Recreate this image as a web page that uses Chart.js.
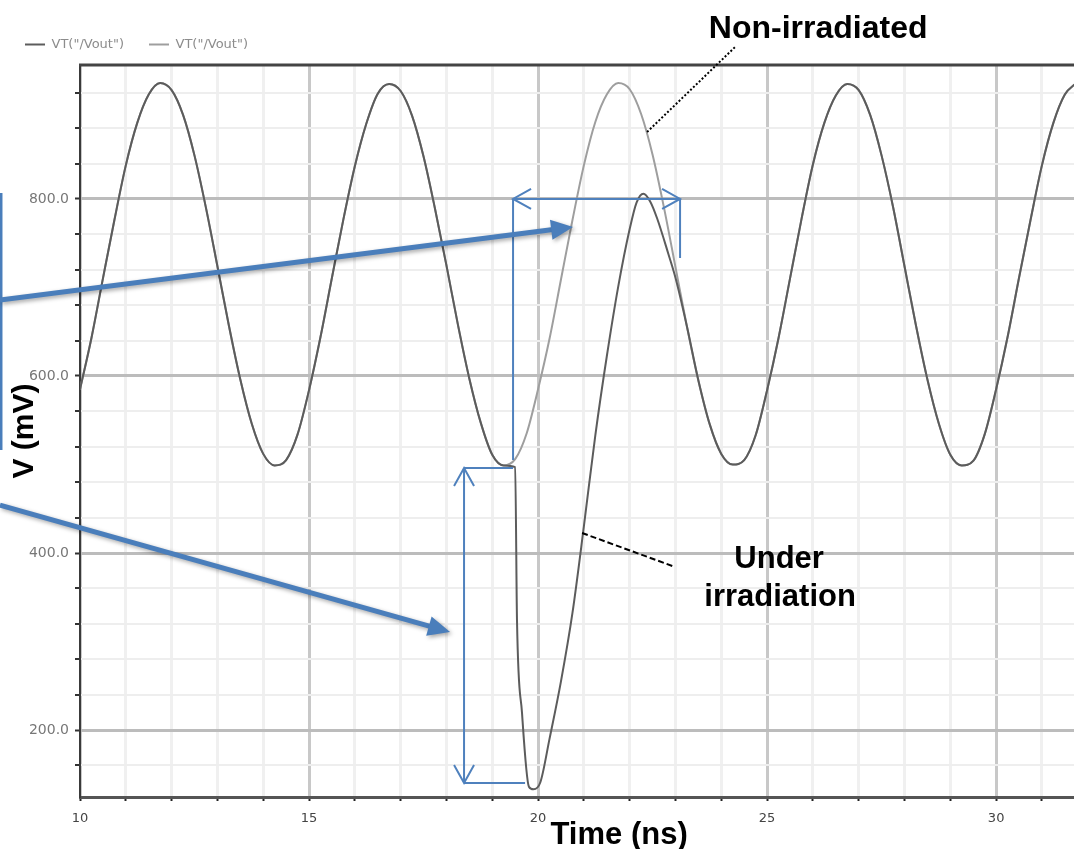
<!DOCTYPE html>
<html>
<head>
<meta charset="utf-8">
<title>VT(/Vout) - SET on ring oscillator</title>
<script src="https://cdn.jsdelivr.net/npm/chart.js@4.4.1/dist/chart.umd.min.js"></script>
<style>
  html, body { margin: 0; padding: 0; background: #fff; }
  #wrap { width: 1074px; height: 849px; }
</style>
</head>
<body>
<div id="wrap"><canvas id="voutChart" width="1074" height="849"></canvas></div>
<script>
// time (ns), one sample every 0.25 ns
const timeNs = [
    10, 10.25, 10.5, 10.75, 11, 11.25, 11.5, 11.75, 12, 12.25, 12.5, 12.75, 13, 13.25, 13.5, 13.75, 14, 14.25, 14.5, 14.75,
    15, 15.25, 15.5, 15.75, 16, 16.25, 16.5, 16.75, 17, 17.25, 17.5, 17.75, 18, 18.25, 18.5, 18.75, 19, 19.25, 19.5, 19.75,
    20, 20.25, 20.5, 20.75, 21, 21.25, 21.5, 21.75, 22, 22.25, 22.5, 22.75, 23, 23.25, 23.5, 23.75, 24, 24.25, 24.5, 24.75,
    25, 25.25, 25.5, 25.75, 26, 26.25, 26.5, 26.75, 27, 27.25, 27.5, 27.75, 28, 28.25, 28.5, 28.75, 29, 29.25, 29.5, 29.75,
    30, 30.25, 30.5, 30.75, 31, 31.25, 31.5, 31.75
];

// non-irradiated output (mV)
const vNonIrradiated = [
    585, 643, 710, 776, 838, 886, 918, 931, 923, 895, 849, 790, 724, 657, 596, 546, 512, 499, 505, 534,
    584, 644, 711, 777, 837, 885, 919, 930, 922, 894, 848, 789, 725, 658, 597, 547, 511, 499, 506, 535,
    585, 642, 709, 776, 838, 887, 918, 931, 924, 896, 850, 790, 723, 656, 595, 545, 512, 500, 505, 533,
    584, 643, 710, 777, 839, 886, 917, 930, 923, 895, 849, 791, 724, 657, 596, 546, 511, 499, 504, 534,
    585, 644, 711, 776, 838, 886, 918, 931
];

// under irradiation: strike at ~19.5 ns, then recovery
const timeIrradiated = [
    10, 10.25, 10.5, 10.75, 11, 11.25, 11.5, 11.75, 12, 12.25, 12.5, 12.75, 13, 13.25, 13.5, 13.75, 14, 14.25, 14.5, 14.75,
    15, 15.25, 15.5, 15.75, 16, 16.25, 16.5, 16.75, 17, 17.25, 17.5, 17.75, 18, 18.25, 18.5, 18.75, 19, 19.25,
    19.5, 19.54, 19.65, 19.8, 19.9, 20.05, 20.25, 20.5, 20.75, 21, 21.25, 21.5, 21.75, 22, 22.15, 22.3, 22.45, 22.6, 22.85, 23,
    23.25, 23.5, 23.75, 24, 24.25, 24.5, 24.75,
    25, 25.25, 25.5, 25.75, 26, 26.25, 26.5, 26.75, 27, 27.25, 27.5, 27.75, 28, 28.25, 28.5, 28.75, 29, 29.25, 29.5, 29.75,
    30, 30.25, 30.5, 30.75, 31, 31.25, 31.5, 31.75
];
const vIrradiated = [
    585, 643, 710, 776, 838, 886, 918, 931, 923, 895, 849, 790, 724, 657, 596, 546, 512, 499, 505, 534,
    584, 644, 711, 777, 837, 885, 919, 930, 922, 894, 848, 789, 725, 658, 597, 547, 511, 499,
    497, 324, 219, 136, 133, 141, 190, 255, 332, 430, 533, 622, 701, 766, 796, 806, 797, 778, 737, 711,
    656, 595, 545, 512, 500, 505, 533,
    584, 643, 710, 777, 839, 886, 917, 930, 923, 895, 849, 791, 724, 657, 596, 546, 511, 499, 504, 534,
    585, 644, 711, 776, 838, 886, 918, 931
];

const seriesLabels = ['VT("/Vout")', 'VT("/Vout")'];
const xTickLabels = [10, 15, 20, 25, 30];
const yTickLabels = [200, 400, 600, 800];

// callouts, in data units (ns, mV)
const bigArrows = [
    [8.253, 685.9, 20.764, 768.4],
    [8.253, 454.2, 18.079, 310.7]
];
const bracketLines = [
    [19.454, 800, 19.454, 505.1],
    [23.1, 800, 23.1, 733.3],
    [18.384, 496.0, 19.454, 496.0],
    [18.384, 140.1, 19.716, 140.1]
];
const doubleArrows = [
    [19.454, 800, 23.1, 800],
    [18.384, 496.0, 18.384, 140.1]
];

const toPoints = (xs, ys) => xs.map((t, i) => ({ x: t, y: ys[i] }));

const legendHeight = {
    id: 'legendHeight',
    beforeInit(chart) {
        const fit = chart.legend.fit;
        chart.legend.fit = function () {
            fit.call(this);
            this.height = 52;
        };
    }
};

function arrowHead(ctx, x0, y0, x1, y1, len, half, filled) {
    const a = Math.atan2(y1 - y0, x1 - x0);
    const bx = x1 - len * Math.cos(a), by = y1 - len * Math.sin(a);
    const px = -Math.sin(a) * half, py = Math.cos(a) * half;
    ctx.beginPath();
    ctx.moveTo(bx + px, by + py);
    ctx.lineTo(x1, y1);
    ctx.lineTo(bx - px, by - py);
    if (filled) {
        ctx.closePath();
        ctx.fill();
    } else {
        ctx.stroke();
    }
}

const callouts = {
    id: 'callouts',
    afterDraw(chart) {
        const { ctx, chartArea, scales: { x, y } } = chart;
        const P = (t, v) => [x.getPixelForValue(t), y.getPixelForValue(v)];
        ctx.save();

        // frame line on top of the plot
        ctx.strokeStyle = '#444';
        ctx.lineWidth = 3;
        ctx.beginPath();
        ctx.moveTo(chartArea.left - 1, chartArea.top);
        ctx.lineTo(chartArea.right, chartArea.top);
        ctx.stroke();

        const blue = '#4a7ebb';

        // edge of the cut-off text box on the left
        let [ax, ay] = P(8.275, 806.8);
        let [bx, by] = P(8.275, 516.4);
        ctx.strokeStyle = blue;
        ctx.lineWidth = 3;
        ctx.beginPath();
        ctx.moveTo(ax, ay);
        ctx.lineTo(bx, by);
        ctx.stroke();

        // thin brackets
        ctx.lineWidth = 2;
        ctx.strokeStyle = '#4f81bd';
        bracketLines.forEach(([t0, v0, t1, v1]) => {
            const [p0x, p0y] = P(t0, v0);
            const [p1x, p1y] = P(t1, v1);
            ctx.beginPath();
            ctx.moveTo(p0x, p0y);
            ctx.lineTo(p1x, p1y);
            ctx.stroke();
        });
        doubleArrows.forEach(([t0, v0, t1, v1]) => {
            const [p0x, p0y] = P(t0, v0);
            const [p1x, p1y] = P(t1, v1);
            ctx.beginPath();
            ctx.moveTo(p0x, p0y);
            ctx.lineTo(p1x, p1y);
            ctx.stroke();
            arrowHead(ctx, p0x, p0y, p1x, p1y, 18, 10, false);
            arrowHead(ctx, p1x, p1y, p0x, p0y, 18, 10, false);
        });

        // big pointer arrows
        ctx.shadowColor = 'rgba(0,0,0,0.35)';
        ctx.shadowBlur = 4;
        ctx.shadowOffsetX = 2;
        ctx.shadowOffsetY = 2;
        ctx.strokeStyle = blue;
        ctx.fillStyle = blue;
        ctx.lineWidth = 5;
        bigArrows.forEach(([t0, v0, t1, v1]) => {
            const [p0x, p0y] = P(t0, v0);
            const [p1x, p1y] = P(t1, v1);
            const a = Math.atan2(p1y - p0y, p1x - p0x);
            ctx.beginPath();
            ctx.moveTo(p0x, p0y);
            ctx.lineTo(p1x - 18 * Math.cos(a), p1y - 18 * Math.sin(a));
            ctx.stroke();
            arrowHead(ctx, p0x, p0y, p1x, p1y, 22, 10, true);
        });
        ctx.shadowColor = 'transparent';

        // leader lines
        ctx.strokeStyle = '#000';
        ctx.lineWidth = 2;
        ctx.setLineDash([2, 2]);
        [ax, ay] = P(22.38, 875.7);
        [bx, by] = P(24.301, 971.7);
        ctx.beginPath();
        ctx.moveTo(ax, ay);
        ctx.lineTo(bx, by);
        ctx.stroke();
        ctx.setLineDash([6, 3]);
        [ax, ay] = P(20.961, 422.6);
        [bx, by] = P(22.991, 384.2);
        ctx.beginPath();
        ctx.moveTo(ax, ay);
        ctx.lineTo(bx, by);
        ctx.stroke();
        ctx.setLineDash([]);

        // labels
        ctx.fillStyle = '#000';
        ctx.textAlign = 'center';
        ctx.textBaseline = 'alphabetic';
        ctx.font = 'bold 32px "Liberation Sans", Arial, sans-serif';
        ctx.fillText('Non-irradiated', ...P(26.114, 981.9));
        ctx.font = 'bold 31px "Liberation Sans", Arial, sans-serif';
        ctx.fillText('Under', ...P(25.262, 383.0));
        ctx.fillText('irradiation', ...P(25.284, 340.1));
        ctx.fillText('Time (ns)', ...P(21.769, 71.2));

        ctx.restore();
    }
};

const ctx = document.getElementById('voutChart').getContext('2d');

new Chart(ctx, {
    type: 'line',
    data: {
        datasets: [
            {
                label: seriesLabels[0],
                data: toPoints(timeIrradiated, vIrradiated),
                borderColor: '#5c5c5c',
                backgroundColor: '#5c5c5c',
                borderWidth: 2,
                pointRadius: 0,
                cubicInterpolationMode: 'monotone',
                fill: false
            },
            {
                label: seriesLabels[1],
                data: toPoints(timeNs, vNonIrradiated),
                borderColor: '#9e9e9e',
                backgroundColor: '#9e9e9e',
                borderWidth: 2,
                pointRadius: 0,
                cubicInterpolationMode: 'monotone',
                fill: false
            }
        ]
    },
    options: {
        responsive: false,
        animation: false,
        layout: { padding: { top: 13, left: 0, right: 0, bottom: 0 } },
        plugins: {
            legend: {
                align: 'start',
                labels: {
                    usePointStyle: true,
                    pointStyle: 'line',
                    pointStyleWidth: 20,
                    padding: 25,
                    color: '#8c8c8c',
                    font: { family: 'DejaVu Sans', size: 13 }
                }
            },
            tooltip: { enabled: false }
        },
        scales: {
            x: {
                type: 'linear',
                min: 10,
                max: 31.7,
                afterFit: scale => { scale.height = 52; },
                border: { color: '#555', width: 3 },
                grid: {
                    color: c => xTickLabels.includes(Math.round(c.tick.value)) ? '#c8c8c8' : '#f0f0f0',
                    lineWidth: 3,
                    tickColor: '#222',
                    tickWidth: 2,
                    tickLength: 4
                },
                ticks: {
                    stepSize: 1,
                    includeBounds: false,
                    autoSkip: false,
                    maxRotation: 0,
                    padding: 10,
                    color: '#444',
                    font: { family: 'DejaVu Sans', size: 13 },
                    callback: v => xTickLabels.includes(Math.round(v)) ? String(Math.round(v)) : ''
                }
            },
            y: {
                min: 124.3,
                max: 951.4,
                afterFit: scale => { scale.width = 80; },
                border: { color: '#3a3a3a', width: 2 },
                grid: {
                    color: c => yTickLabels.includes(Math.round(c.tick.value)) ? '#bcbcbc' : '#eeeeee',
                    lineWidth: c => yTickLabels.includes(Math.round(c.tick.value)) ? 3 : 2,
                    tickColor: '#333',
                    tickWidth: 2,
                    tickLength: 5
                },
                ticks: {
                    stepSize: 40,
                    includeBounds: false,
                    autoSkip: false,
                    padding: 6,
                    color: '#777',
                    font: { family: 'DejaVu Sans', size: 14 },
                    callback: v => yTickLabels.includes(Math.round(v)) ? Math.round(v).toFixed(1) : ''
                },
                title: {
                    display: true,
                    text: 'V (mV)',
                    color: '#000',
                    font: { family: 'Liberation Sans', size: 30, weight: 'bold' },
                    padding: { top: 7, bottom: 0 }
                }
            }
        }
    },
    plugins: [legendHeight, callouts]
});
</script>
</body>
</html>
